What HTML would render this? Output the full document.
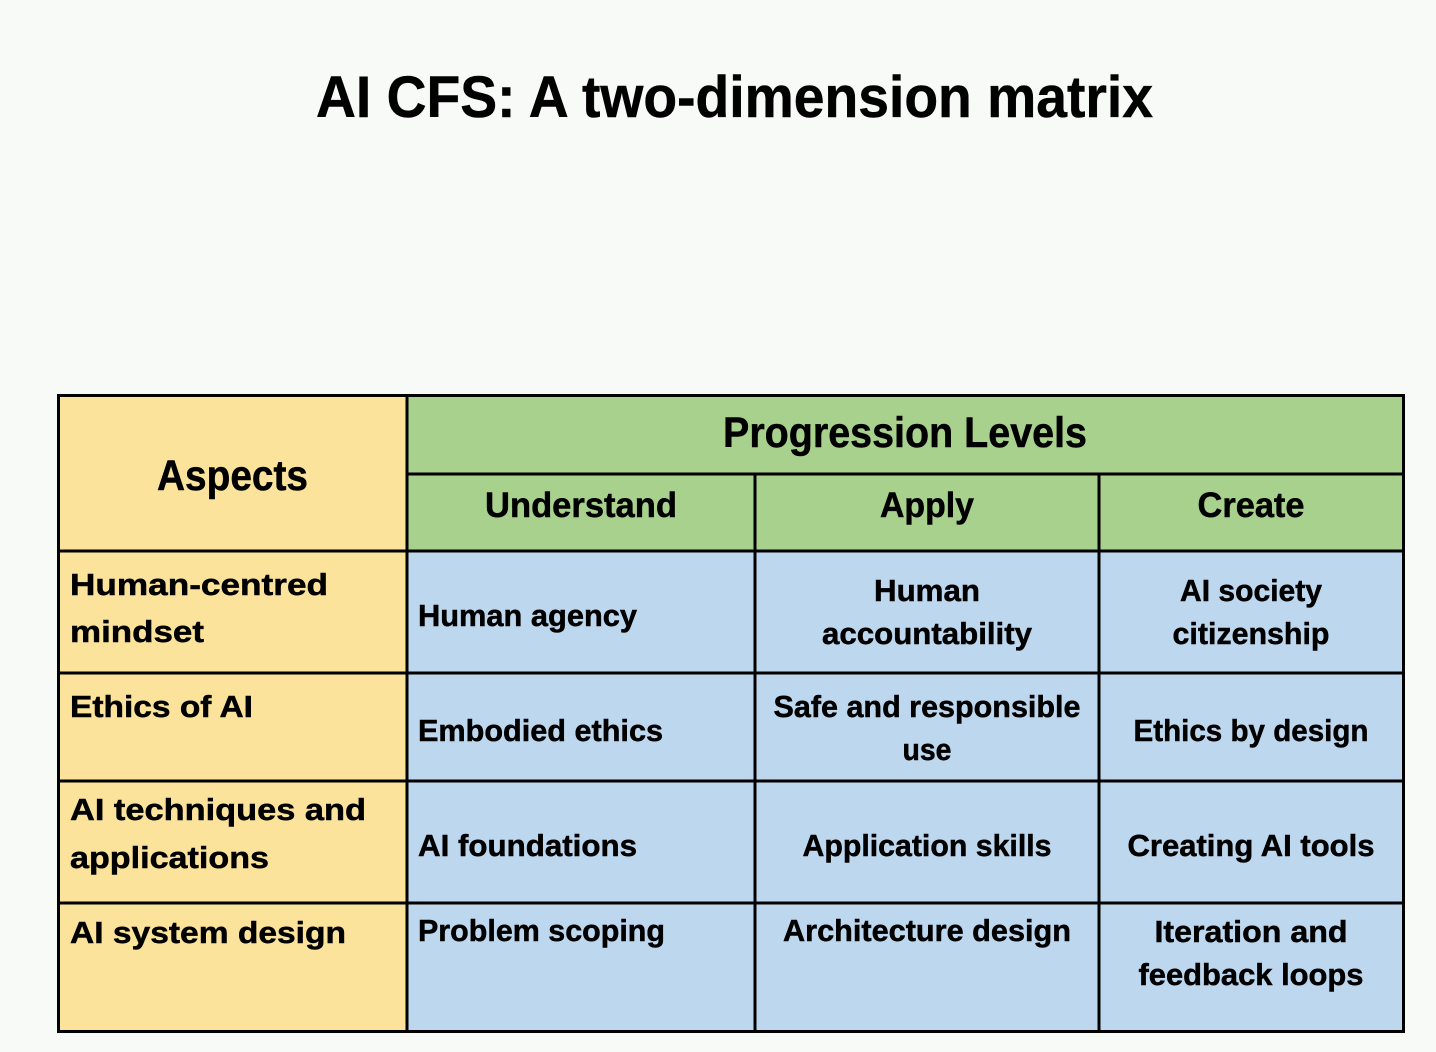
<!DOCTYPE html>
<html>
<head>
<meta charset="utf-8">
<style>
  html, body { margin: 0; padding: 0; background: #f8faf8; }
  body { width: 1436px; height: 1052px; overflow: hidden; }
  svg { display: block; }
  text { font-family: "Liberation Sans", Arial, sans-serif; font-weight: bold; fill: #000; stroke: #000; stroke-width: 0.5px; }
</style>
</head>
<body>
<svg width="1436" height="1052" viewBox="0 0 1436 1052" xmlns="http://www.w3.org/2000/svg">
  <rect x="0" y="0" width="1436" height="1052" fill="#f8faf8"/>

  <!-- Title -->
  <text x="734.5" y="117" font-size="58" text-anchor="middle" textLength="837" lengthAdjust="spacingAndGlyphs">AI CFS: A two-dimension matrix</text>

  <!-- Cell fills -->
  <rect x="58" y="395" width="349" height="637" fill="#fbe39b"/>
  <rect x="407" y="395" width="997" height="156" fill="#a9d18e"/>
  <rect x="407" y="551" width="997" height="481" fill="#bdd7ee"/>

  <!-- Grid lines -->
  <g stroke="#000" stroke-width="3" fill="none">
    <rect x="58.5" y="395.5" width="1345" height="636"/>
    <line x1="407" y1="395" x2="407" y2="1032"/>
    <line x1="755" y1="474" x2="755" y2="1032"/>
    <line x1="1099" y1="474" x2="1099" y2="1032"/>
    <line x1="407" y1="474" x2="1404" y2="474"/>
    <line x1="58" y1="551" x2="1404" y2="551"/>
    <line x1="58" y1="673" x2="1404" y2="673"/>
    <line x1="58" y1="781" x2="1404" y2="781"/>
    <line x1="58" y1="903" x2="1404" y2="903"/>
  </g>

  <!-- Header -->
  <text x="232.5" y="490" font-size="43" text-anchor="middle" textLength="151" lengthAdjust="spacingAndGlyphs">Aspects</text>
  <text x="905" y="447" font-size="43" text-anchor="middle" textLength="364" lengthAdjust="spacingAndGlyphs">Progression Levels</text>
  <text x="581" y="517" font-size="35" text-anchor="middle" textLength="192" lengthAdjust="spacingAndGlyphs">Understand</text>
  <text x="927" y="517" font-size="35" text-anchor="middle" textLength="94" lengthAdjust="spacingAndGlyphs">Apply</text>
  <text x="1251" y="517" font-size="35" text-anchor="middle" textLength="107" lengthAdjust="spacingAndGlyphs">Create</text>

  <!-- Row 1 -->
  <text x="70" y="595" font-size="31" textLength="258" lengthAdjust="spacingAndGlyphs">Human-centred</text>
  <text x="70" y="642" font-size="31" textLength="134" lengthAdjust="spacingAndGlyphs">mindset</text>
  <text x="418" y="626" font-size="31" textLength="219" lengthAdjust="spacingAndGlyphs">Human agency</text>
  <text x="927" y="601" font-size="31" text-anchor="middle" textLength="106" lengthAdjust="spacingAndGlyphs">Human</text>
  <text x="927" y="644" font-size="31" text-anchor="middle" textLength="210" lengthAdjust="spacingAndGlyphs">accountability</text>
  <text x="1251" y="601" font-size="31" text-anchor="middle" textLength="142" lengthAdjust="spacingAndGlyphs">AI society</text>
  <text x="1251" y="644" font-size="31" text-anchor="middle" textLength="157" lengthAdjust="spacingAndGlyphs">citizenship</text>

  <!-- Row 2 -->
  <text x="70" y="717" font-size="31" textLength="183" lengthAdjust="spacingAndGlyphs">Ethics of AI</text>
  <text x="418" y="741" font-size="31" textLength="245" lengthAdjust="spacingAndGlyphs">Embodied ethics</text>
  <text x="927" y="717" font-size="31" text-anchor="middle" textLength="307" lengthAdjust="spacingAndGlyphs">Safe and responsible</text>
  <text x="927" y="760" font-size="31" text-anchor="middle" textLength="49" lengthAdjust="spacingAndGlyphs">use</text>
  <text x="1251" y="741" font-size="31" text-anchor="middle" textLength="235" lengthAdjust="spacingAndGlyphs">Ethics by design</text>

  <!-- Row 3 -->
  <text x="70" y="820" font-size="31" textLength="296" lengthAdjust="spacingAndGlyphs">AI techniques and</text>
  <text x="70" y="868" font-size="31" textLength="199" lengthAdjust="spacingAndGlyphs">applications</text>
  <text x="418" y="856" font-size="31" textLength="219" lengthAdjust="spacingAndGlyphs">AI foundations</text>
  <text x="927" y="856" font-size="31" text-anchor="middle" textLength="249" lengthAdjust="spacingAndGlyphs">Application skills</text>
  <text x="1251" y="856" font-size="31" text-anchor="middle" textLength="247" lengthAdjust="spacingAndGlyphs">Creating AI tools</text>

  <!-- Row 4 -->
  <text x="70" y="943" font-size="31" textLength="276" lengthAdjust="spacingAndGlyphs">AI system design</text>
  <text x="418" y="941" font-size="31" textLength="247" lengthAdjust="spacingAndGlyphs">Problem scoping</text>
  <text x="927" y="941" font-size="31" text-anchor="middle" textLength="288" lengthAdjust="spacingAndGlyphs">Architecture design</text>
  <text x="1251" y="942" font-size="31" text-anchor="middle" textLength="193" lengthAdjust="spacingAndGlyphs">Iteration and</text>
  <text x="1251" y="985" font-size="31" text-anchor="middle" textLength="225" lengthAdjust="spacingAndGlyphs">feedback loops</text>
</svg>
</body>
</html>
